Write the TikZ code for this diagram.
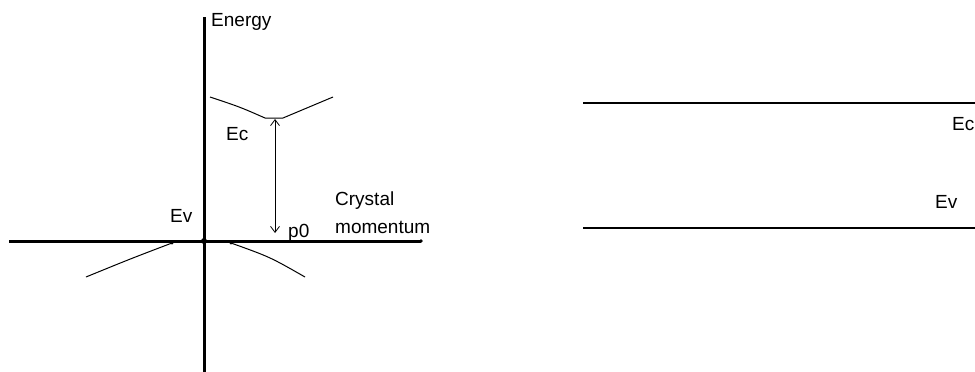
\documentclass[tikz,border=0pt]{standalone}
\usepackage{fontspec}
\setmainfont{Liberation Sans}
\usetikzlibrary{arrows.meta}
\tikzset{
  lbl/.style={font=\fontsize{19}{22}\selectfont, inner sep=0pt},
  band/.style={line width=1pt},
  axis/.style={line width=3pt},
  level/.style={line width=1.6pt}
}
\begin{document}
\begin{tikzpicture}[x=1pt, y=-1pt]
  \useasboundingbox (0,0) rectangle (975,372);
  % axes of the E(p) sketch
  \coordinate (O) at (204,241);
  \coordinate (ytop) at (204,17);
  \coordinate (ybot) at (204,372);
  \coordinate (xleft) at (9,241);
  \coordinate (xright) at (421,241);
  \draw[axis] (ybot) -- (ytop);
  \draw[axis] (xleft) -- (xright);
  \fill (O) circle (3);
  \fill (xright) circle (1.8);
  \node[lbl, anchor=base west] (energy) at (211,27) {Energy};
  \node[lbl, anchor=base west] (cryst) at (335,205) {Crystal};
  \node[lbl, anchor=base west] (mom) at (335,233) {momentum};
  % conduction band minimum at p0
  \coordinate (cmin) at (275,119);
  \coordinate (p0pt) at (275,233);
  \draw[band] (210,97) .. controls (240,107) .. (265,118) -- (283,118) .. controls (308,107) .. (333,97);
  \draw[line width=0.8pt, {Straight Barb[length=6pt,width=9pt]}-{Straight Barb[length=6pt,width=9pt]}] (cmin) -- (p0pt);
  \node[lbl, anchor=base west] (ec) at (226,140) {Ec};
  \node[lbl, anchor=base west] (p0) at (288,237) {p0};
  % valence band maximum at the origin
  \node[lbl, anchor=base west] (ev) at (170,222) {Ev};
  \draw[band] (86,277) .. controls (130,259) .. (172,243);
  \draw[band] (231,243) .. controls (270,257) .. (305,277);
  \fill (172,243) circle (1.6);
  \fill (231,243) circle (1.6);
  % band edges in real space
  \coordinate (ec1) at (583,103);
  \coordinate (ec2) at (975,103);
  \coordinate (ev1) at (583,228);
  \coordinate (ev2) at (975,228);
  \draw[level] (ec1) -- (ec2);
  \draw[level] (ev1) -- (ev2);
  \node[lbl, anchor=base west] (ecr) at (952,130) {Ec};
  \node[lbl, anchor=base west] (evr) at (935,208) {Ev};
\end{tikzpicture}
\end{document}
